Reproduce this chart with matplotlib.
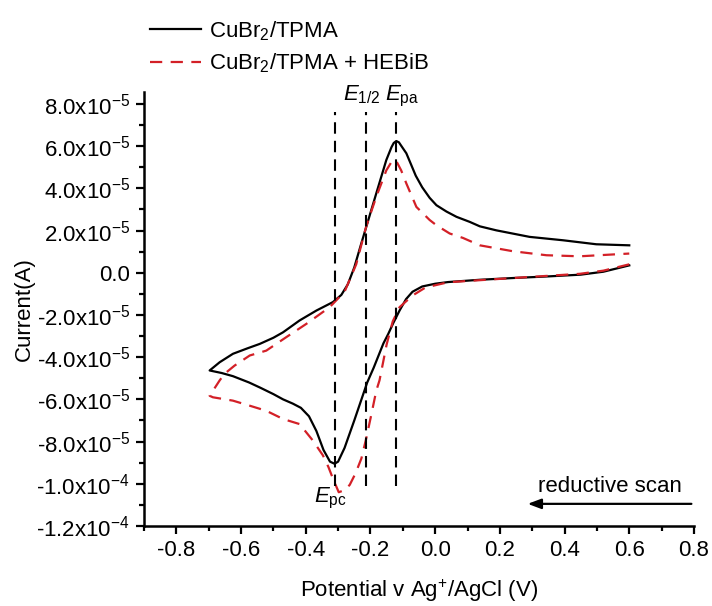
import numpy as np
import matplotlib
matplotlib.use('Agg')
from matplotlib import pyplot as plt
from matplotlib.ticker import FuncFormatter, MultipleLocator
from matplotlib.lines import Line2D

plt.rcParams['font.family'] = ['Liberation Sans', 'DejaVu Sans']
plt.rcParams['mathtext.fontset'] = 'custom'
plt.rcParams['mathtext.rm'] = 'Liberation Sans'
plt.rcParams['mathtext.it'] = 'Liberation Sans:italic'
plt.rcParams['mathtext.bf'] = 'Liberation Sans:bold'
plt.rcParams['axes.unicode_minus'] = False

# current in units of 1e-5 A, potential in V
# CuBr2/TPMA, reductive sweep 0.6 -> -0.7
cu_red_v = [0.60, 0.52, 0.45, 0.34, 0.24, 0.14, 0.04, 0.00, -0.04, -0.07, -0.09, -0.11,
            -0.13, -0.145, -0.16, -0.19, -0.21, -0.23, -0.25, -0.28, -0.30, -0.311,
            -0.325, -0.345, -0.367, -0.39, -0.415, -0.44, -0.47, -0.50, -0.54, -0.575,
            -0.625, -0.66, -0.697]
cu_red_i = [0.35, 0.05, -0.09, -0.18, -0.25, -0.33, -0.44, -0.52, -0.65, -0.90, -1.25, -1.79,
            -2.40, -2.90, -3.35, -4.50, -5.20, -6.10, -7.00, -8.30, -8.95, -9.05,
            -8.95, -8.40, -7.50, -6.80, -6.40, -6.20, -6.00, -5.75, -5.45, -5.20,
            -4.90, -4.75, -4.63]
# CuBr2/TPMA, oxidative sweep -0.7 -> 0.6
cu_ox_v = [-0.697, -0.666, -0.625, -0.58, -0.542, -0.50, -0.47, -0.419, -0.367, -0.316,
           -0.29, -0.27, -0.25, -0.23, -0.213, -0.182, -0.151, -0.135, -0.128, -0.12,
           -0.112, -0.105, -0.089, -0.075, -0.06, -0.04, -0.017, 0.004, 0.035, 0.066,
           0.107, 0.138, 0.189, 0.292, 0.395, 0.498, 0.60]
cu_ox_i = [-4.63, -4.24, -3.84, -3.58, -3.37, -3.08, -2.82, -2.26, -1.79, -1.39,
           -1.05, -0.55, 0.25, 1.30, 2.17, 3.76, 5.34, 5.95, 6.15, 6.24,
           6.18, 6.02, 5.66, 5.15, 4.60, 4.05, 3.55, 3.20, 2.90, 2.65,
           2.41, 2.20, 2.01, 1.70, 1.54, 1.35, 1.30]

# CuBr2/TPMA + HEBiB
he_red_v = [0.60, 0.52, 0.447, 0.24, 0.04, -0.03, -0.069, -0.11, -0.131, -0.15, -0.172,
            -0.182, -0.197, -0.213, -0.228, -0.246, -0.264, -0.28, -0.298, -0.316, -0.33,
            -0.347, -0.378, -0.419, -0.47, -0.522, -0.573, -0.625, -0.687, -0.697]
he_red_i = [0.40, 0.10, -0.05, -0.25, -0.45, -0.70, -1.07, -1.63, -2.30, -3.40, -5.10,
            -5.59, -6.70, -7.85, -8.80, -9.50, -10.05, -10.30, -10.40, -9.75, -9.20,
            -8.65, -7.95, -7.17, -6.93, -6.54, -6.30, -6.06, -5.90, -5.83]
he_ox_v = [-0.697, -0.666, -0.651, -0.62, -0.573, -0.522, -0.46, -0.398, -0.326, -0.28,
           -0.244, -0.213, -0.182, -0.151, -0.135, -0.122, -0.105, -0.089, -0.058, -0.017,
           0.004, 0.045, 0.086, 0.138, 0.24, 0.344, 0.447, 0.60]
he_ox_i = [-5.83, -5.10, -4.79, -4.40, -3.92, -3.69, -3.05, -2.42, -1.63, -0.90,
           0.40, 2.20, 3.60, 4.85, 5.25, 5.35, 4.85, 4.23, 3.12, 2.50,
           2.25, 1.86, 1.65, 1.30, 1.02, 0.83, 0.78, 0.91]

# characteristic potentials (V)
e_pc = -0.311
e_half = -0.215
e_pa = -0.12

RED = '#d32027'
FS = 16


def loop(v1, i1, v2, i2):
    v = np.array(v1 + v2[1:])
    i = np.array(i1 + i2[1:]) * 1e-5
    return v, i


def sci(val, pos):
    if abs(val) < 1e-12:
        return '0.0'
    exp = int(np.floor(np.log10(abs(val)) + 1e-9))
    mant = val / 10 ** exp
    return '%.1fx10$^{%d}$' % (mant, exp)


fig = plt.figure(figsize=(7.12, 6.06), dpi=100)
ax = fig.add_axes([0.2022, 0.132, 0.9747 - 0.2022, 0.8487 - 0.132])

v, i = loop(cu_red_v, cu_red_i, cu_ox_v, cu_ox_i)
ax.plot(v, i, color='black', lw=1.6, solid_joinstyle='round')
v, i = loop(he_red_v, he_red_i, he_ox_v, he_ox_i)
ax.plot(v, i, color=RED, lw=1.6, linestyle=(0, (5.5, 3.8)))

for e in (e_pc, e_half, e_pa):
    ax.plot([e, e], [-10.1e-5, 7.6e-5], color='black', lw=1.5, linestyle=(0, (5.5, 3.4)))

ax.text(e_half - 0.011, 8.19e-5, r'$E_{\mathrm{1/2}}$', fontsize=FS, ha='center', va='baseline')
ax.text(e_pa + 0.018, 8.19e-5, r'$E_{\mathrm{pa}}$', fontsize=FS, ha='center', va='baseline')
ax.text(e_pc - 0.012, -10.86e-5, r'$E_{\mathrm{pc}}$', fontsize=FS, ha='center', va='baseline')

ax.text(0.539, -10.37e-5, 'reductive scan', fontsize=FS, ha='center', va='baseline')
ax.annotate('', xy=(0.286, -10.95e-5), xytext=(0.792, -10.95e-5),
            arrowprops=dict(arrowstyle='-|>,head_length=0.8,head_width=0.3',
                            color='black', lw=1.6, shrinkA=0, shrinkB=0))

ax.set_xlim(-0.9, 0.8)
ax.set_ylim(-1.2e-4, 8.58e-5)
ax.xaxis.set_major_locator(MultipleLocator(0.2))
ax.xaxis.set_minor_locator(MultipleLocator(0.1))
ax.yaxis.set_major_locator(MultipleLocator(2e-5))
ax.yaxis.set_minor_locator(MultipleLocator(1e-5))
ax.yaxis.set_major_formatter(FuncFormatter(sci))
ax.xaxis.set_major_formatter(FuncFormatter(lambda x, p: '%.1f' % x if abs(x) > 1e-9 else '0.0'))

for s in ('top', 'right'):
    ax.spines[s].set_visible(False)
for s in ('left', 'bottom'):
    ax.spines[s].set_linewidth(1.8)
ax.tick_params(which='major', direction='out', length=6, width=1.6, labelsize=FS, pad=4)
ax.tick_params(which='minor', direction='out', length=3.5, width=1.6)

ax.set_xlabel('Potential v Ag$^{+}$/AgCl (V)', fontsize=FS, labelpad=12)
ax.set_ylabel('Current(A)', fontsize=FS, labelpad=1)

handles = [Line2D([], [], color='black', lw=1.6),
           Line2D([], [], color=RED, lw=1.6, linestyle=(0, (5.5, 3.8)))]
labels = ['CuBr$_2$/TPMA', 'CuBr$_2$/TPMA + HEBiB']
fig.legend(handles, labels, loc='upper left', bbox_to_anchor=(139 / 712, 1 - 8 / 606),
           frameon=False, borderpad=0, handlelength=2.3, handletextpad=0.35,
           labelspacing=0.4, fontsize=FS)

fig.savefig('out.png', dpi=100)
